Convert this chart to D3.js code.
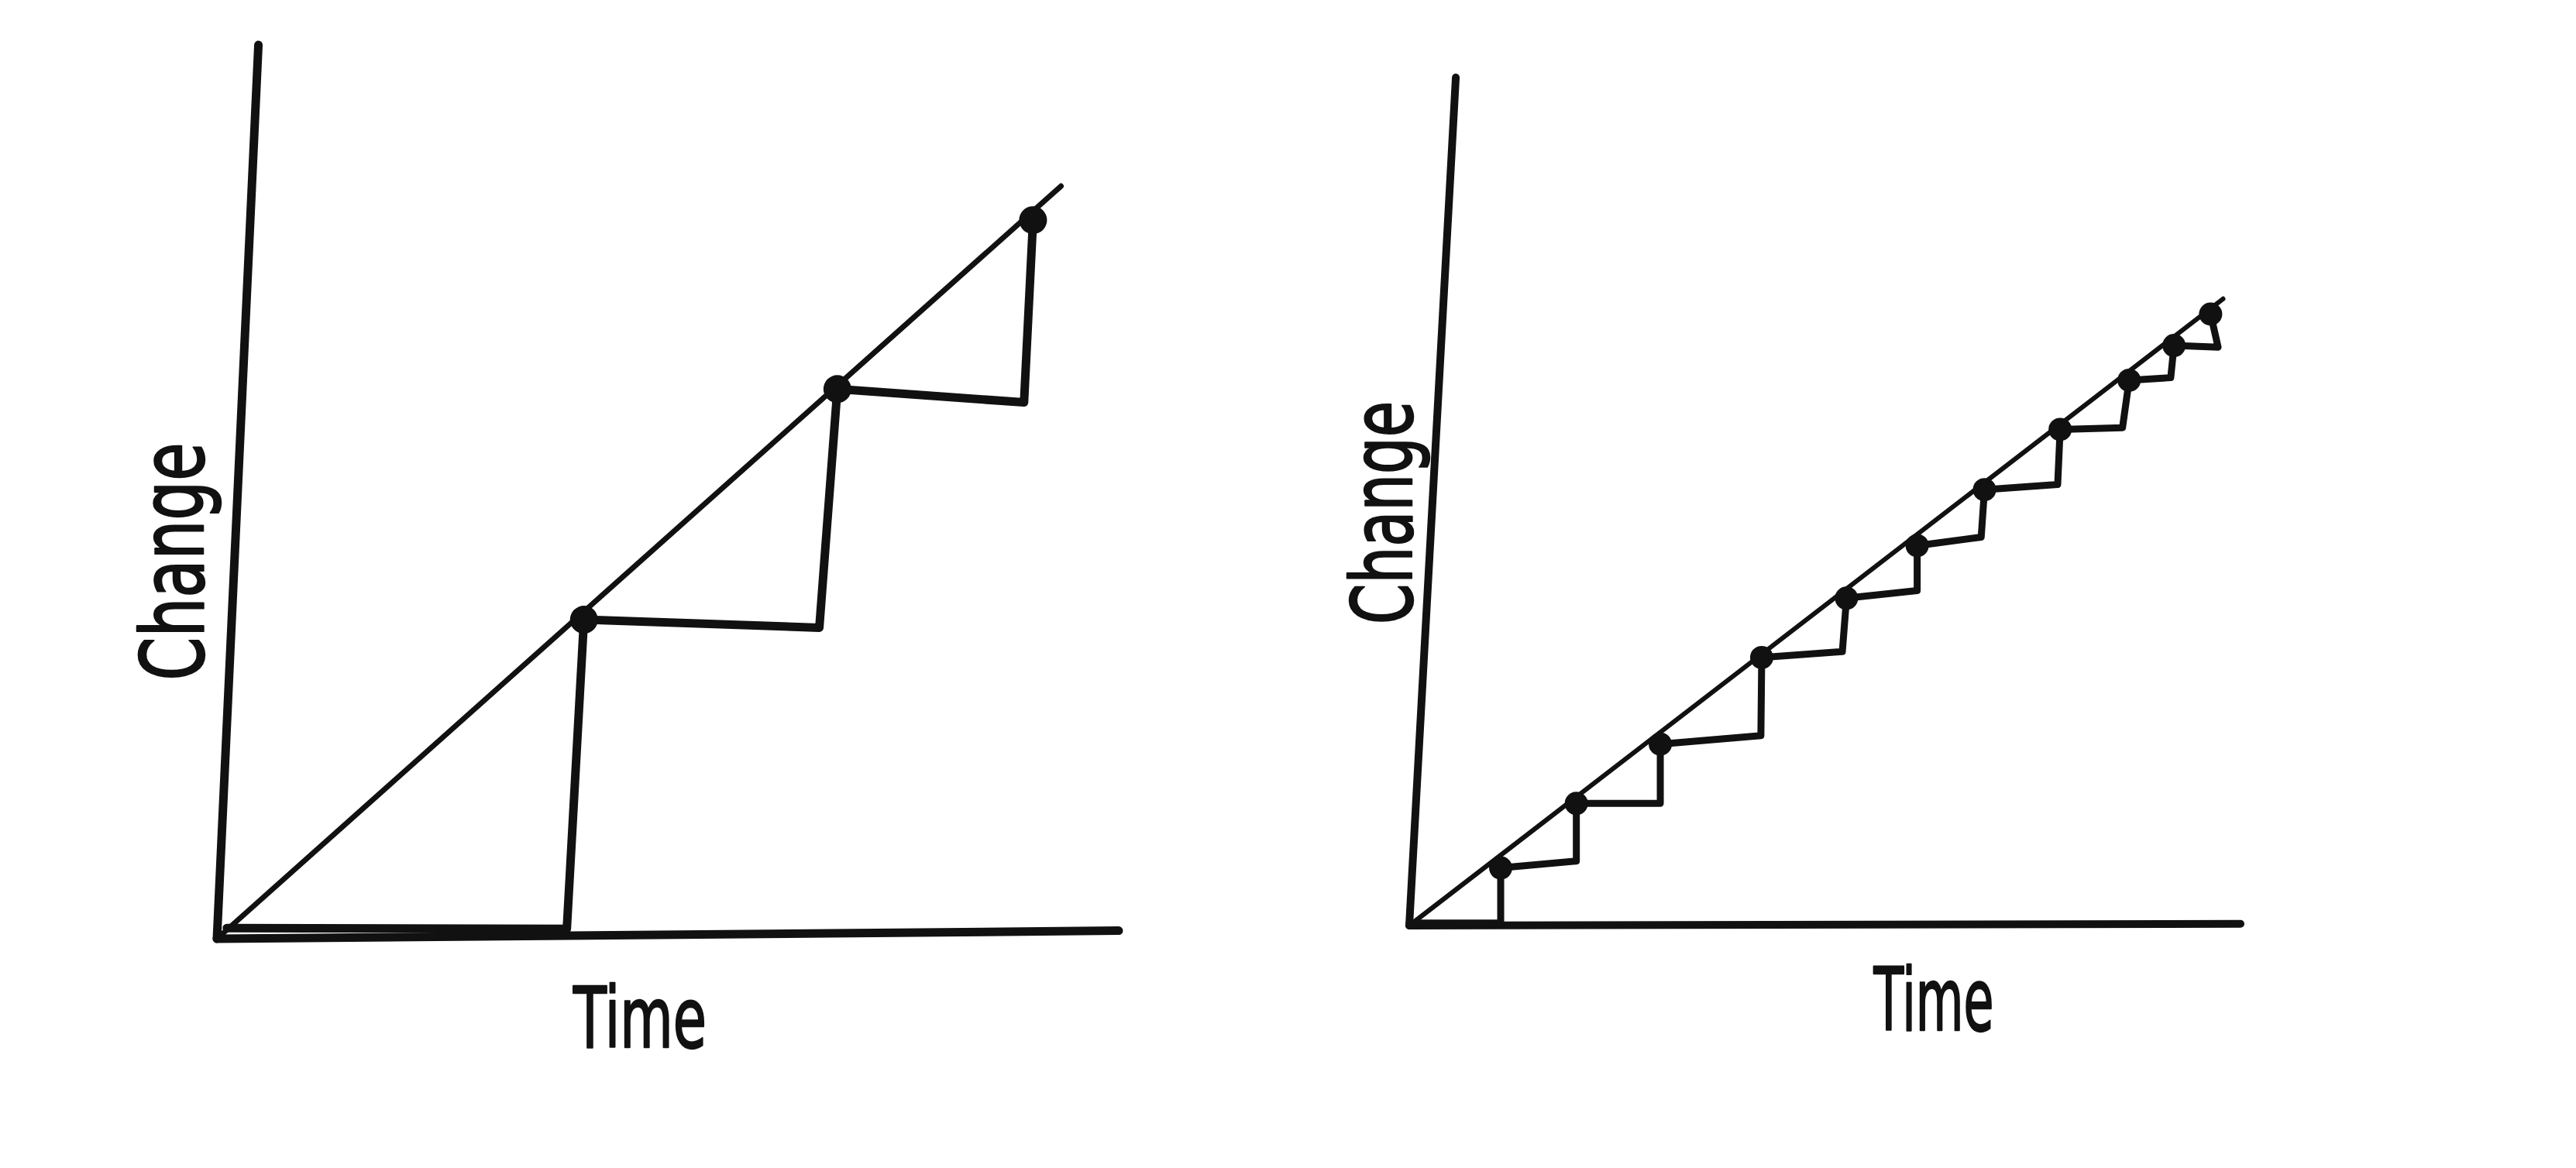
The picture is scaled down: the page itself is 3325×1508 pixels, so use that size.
<!DOCTYPE html>
<html>
<head>
<meta charset="utf-8">
<script src="https://cdn.jsdelivr.net/npm/d3@7"></script>
<style>
  html, body { margin: 0; padding: 0; background: #ffffff; }
  svg { display: block; }
</style>
</head>
<body>
<svg id="chart" width="3325" height="1508"></svg>
<script>
// ---------------- DATA (time, change) ----------------
const axisTitleX = "Time";
const axisTitleY = "Change";

// Left panel: few large steps
const leftXAxis  = [[0, 0], [100, 0.9]];
const leftYAxis  = [[0, 0], [4.6, 100]];
const leftTrend  = [[0, 0], [93.6, 84.2]];
const leftDots   = [[40.7, 35.7], [68.8, 61.5], [90.5, 80.4]];
const leftStairs = [[1.1, 1.2], [38.8, 1.1], [40.7, 35.7], [66.8, 34.8], [68.8, 61.5],
                    [89.5, 60.0], [90.5, 80.4]];

// Right panel: many small steps
const rightXAxis  = [[0, 0], [100, 0.2]];
const rightYAxis  = [[0, 0], [5.6, 100]];
const rightTrend  = [[0, 0], [97.9, 73.9]];
const rightDots   = [[11.0, 6.8], [20.1, 14.4], [30.2, 21.4], [42.4, 31.6], [52.6, 38.6],
                     [61.1, 44.8], [69.2, 51.4], [78.3, 58.5], [86.6, 64.3], [92.0, 68.4],
                     [96.4, 72.1]];
const rightStairs = [[0, 0.3], [11.0, 0.3], [11.0, 6.8], [20.1, 7.6], [20.1, 14.4],
                     [30.2, 14.4], [30.2, 21.4], [42.3, 22.4], [42.4, 31.6], [52.1, 32.3],
                     [52.6, 38.6], [61.1, 39.5], [61.1, 44.8], [68.8, 45.8], [69.2, 51.4],
                     [78.0, 52.0], [78.3, 58.5], [85.8, 58.7], [86.6, 64.3], [91.6, 64.6],
                     [92.0, 68.4], [97.3, 68.2], [96.4, 72.1]];

// ---------------- LAYOUT ----------------
const svg = d3.select("#chart");
svg.append("rect").attr("width", 3325).attr("height", 1508).attr("fill", "#ffffff");

const ink = "#111111";
const fontFamily = "'DejaVu Sans', sans-serif";

function panel(cfg) {
  const x = d3.scaleLinear().domain([0, 100]).range(cfg.xRange);
  const y = d3.scaleLinear().domain([0, 100]).range(cfg.yRange);
  const line = d3.line().x(d => x(d[0])).y(d => y(d[1]));
  const g = svg.append("g");

  // axes
  [cfg.xAxis, cfg.yAxis].forEach(a => {
    g.append("path").attr("d", line(a))
      .attr("fill", "none").attr("stroke", ink)
      .attr("stroke-width", cfg.axisW).attr("stroke-linecap", "round");
  });

  // trend line
  g.append("path").attr("d", line(cfg.trend))
    .attr("fill", "none").attr("stroke", ink)
    .attr("stroke-width", cfg.trendW).attr("stroke-linecap", "round");

  // staircase
  g.append("path").attr("d", line(cfg.stairs))
    .attr("fill", "none").attr("stroke", ink)
    .attr("stroke-width", cfg.stairW).attr("stroke-linejoin", "round")
    .attr("stroke-linecap", "round");

  // dots
  g.selectAll("circle.dot").data(cfg.dots).enter().append("circle")
    .attr("class", "dot")
    .attr("cx", d => x(d[0])).attr("cy", d => y(d[1]))
    .attr("r", cfg.dotR).attr("fill", ink);

  // y title (rotated)
  g.append("text")
    .attr("transform", `translate(${cfg.yTitle[0]},${cfg.yTitle[1]}) rotate(-90)`)
    .attr("text-anchor", "middle")
    .attr("font-family", fontFamily)
    .attr("font-size", cfg.yTitleSize)
    .attr("textLength", cfg.yTitleLen)
    .attr("lengthAdjust", "spacingAndGlyphs")
    .attr("fill", ink).attr("stroke", ink).attr("stroke-width", 2.5)
    .attr("stroke-linejoin", "round")
    .text(axisTitleY);

  // x title
  g.append("text")
    .attr("x", cfg.xTitle[0]).attr("y", cfg.xTitle[1])
    .attr("text-anchor", "middle")
    .attr("font-family", fontFamily)
    .attr("font-size", cfg.xTitleSize)
    .attr("textLength", cfg.xTitleLen)
    .attr("lengthAdjust", "spacingAndGlyphs")
    .attr("fill", ink).attr("stroke", ink).attr("stroke-width", 2.5)
    .attr("stroke-linejoin", "round")
    .text(axisTitleX);
}

panel({
  xRange: [280, 1444], yRange: [1212, 58],
  xAxis: leftXAxis, yAxis: leftYAxis, trend: leftTrend,
  stairs: leftStairs, dots: leftDots,
  axisW: 11, trendW: 7, stairW: 11, dotR: 18,
  yTitle: [262, 725], yTitleSize: 112, yTitleLen: 307,
  xTitle: [826, 1352], xTitleSize: 108, xTitleLen: 172
});

panel({
  xRange: [1819, 2892], yRange: [1195, 100],
  xAxis: rightXAxis, yAxis: rightYAxis, trend: rightTrend,
  stairs: rightStairs, dots: rightDots,
  axisW: 10, trendW: 6, stairW: 9, dotR: 15,
  yTitle: [1822, 662], yTitleSize: 108, yTitleLen: 288,
  xTitle: [2496, 1330], xTitleSize: 112, xTitleLen: 155
});
</script>
</body>
</html>
